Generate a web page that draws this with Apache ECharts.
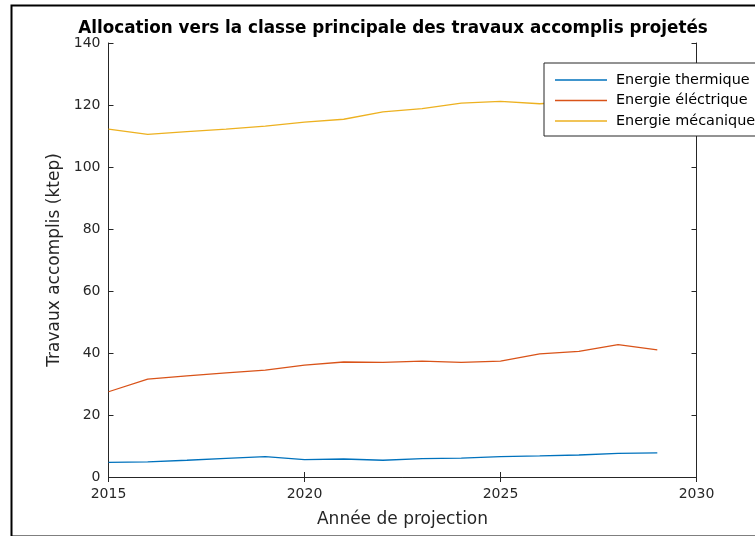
<!DOCTYPE html>
<html>
<head>
<meta charset="utf-8">
<script src="https://cdn.jsdelivr.net/npm/echarts@6/dist/echarts.min.js"></script>
<style>
html,body{margin:0;padding:0;background:#fff;}
#chart{width:755px;height:536px;}
</style>
</head>
<body>
<div id="chart"></div>
<script>
var years = [2015,2016,2017,2018,2019,2020,2021,2022,2023,2024,2025,2026,2027,2028,2029];
var thermique = [4.7,4.9,5.4,6.0,6.6,5.6,5.8,5.4,5.9,6.1,6.6,6.8,7.1,7.6,7.8];
var electrique = [27.5,31.6,32.6,33.6,34.5,36.1,37.1,37.0,37.4,37.0,37.4,39.7,40.5,42.7,41.0];
var mecanique = [112.2,110.5,111.4,112.2,113.2,114.5,115.4,117.8,118.8,120.6,121.2,120.4,121.2,122.0,122.4];
var seriesNames = ['Energie thermique','Energie éléctrique','Energie mécanique'];
var seriesColors = ['#0072BD','#D95319','#EDB120'];
var titleText = 'Allocation vers la classe principale des travaux accomplis projetés';
var xName = 'Année de projection';
var yName = 'Travaux accomplis (ktep)';

var FONT = 'DejaVu Sans';
var AX = '#262626';
function pairs(v){ return years.map(function(y,i){ return [y, v[i]]; }); }
var values = [thermique, electrique, mecanique];

var chart = echarts.init(document.getElementById('chart'), null, {renderer:'canvas'});
var hiddenAxis = {
  axisLine:{show:true, lineStyle:{color:AX, width:1}},
  axisTick:{show:true, inside:true, length:5, lineStyle:{color:AX}},
  axisLabel:{show:false},
  splitLine:{show:false}
};
chart.setOption({
  backgroundColor:'#fff',
  animation:false,
  title:{
    text:titleText,
    left:393, top:20, padding:0, textAlign:'center',
    textStyle:{fontFamily:FONT, fontSize:16.8, fontWeight:'bold', color:'#000'}
  },
  legend:{
    orient:'vertical',
    left:544, top:63,
    padding:[10,20,8,11],
    icon:'rect',
    itemWidth:52, itemHeight:1.3, itemGap:6.5,
    backgroundColor:'#fff',
    borderColor:AX, borderWidth:1, borderRadius:0,
    textStyle:{fontFamily:FONT, fontSize:14.4, color:'#000', padding:[0,0,0,4]},
    data:seriesNames
  },
  grid:{left:108.5, top:43, width:588, height:434, containLabel:false},
  xAxis:[{
    type:'value', min:2015, max:2030, interval:5, position:'bottom',
    name:xName, nameLocation:'middle', nameGap:34,
    nameTextStyle:{fontFamily:FONT, fontSize:17, color:AX},
    axisLine:{show:true, lineStyle:{color:AX, width:1}},
    axisTick:{show:true, inside:true, length:5, lineStyle:{color:AX}},
    axisLabel:{fontFamily:FONT, fontSize:14, color:AX, margin:10, formatter:function(v){return String(v);}},
    splitLine:{show:false}
  }, Object.assign({type:'value', min:2015, max:2030, interval:5, position:'top'}, hiddenAxis)],
  yAxis:[{
    type:'value', min:0, max:140, interval:20, position:'left',
    name:yName, nameLocation:'middle', nameGap:45,
    nameTextStyle:{fontFamily:FONT, fontSize:17, color:AX},
    axisLine:{show:true, lineStyle:{color:AX, width:1}},
    axisTick:{show:true, inside:true, length:5, lineStyle:{color:AX}},
    axisLabel:{fontFamily:FONT, fontSize:14, color:AX, margin:8},
    splitLine:{show:false}
  }, Object.assign({type:'value', min:0, max:140, interval:20, position:'right'}, hiddenAxis)],
  graphic:[{
    type:'rect', left:9, top:3, z:100, silent:true,
    shape:{x:0, y:0, width:760, height:531},
    style:{fill:'none', stroke:'#000', lineWidth:2}
  }],
  series: seriesNames.map(function(n,i){
    return {
      name:n, type:'line', data:pairs(values[i]),
      symbol:'none', showSymbol:false, smooth:false,
      lineStyle:{color:seriesColors[i], width:1.3},
      itemStyle:{color:seriesColors[i]},
      xAxisIndex:0, yAxisIndex:0
    };
  })
});
</script>
</body>
</html>
